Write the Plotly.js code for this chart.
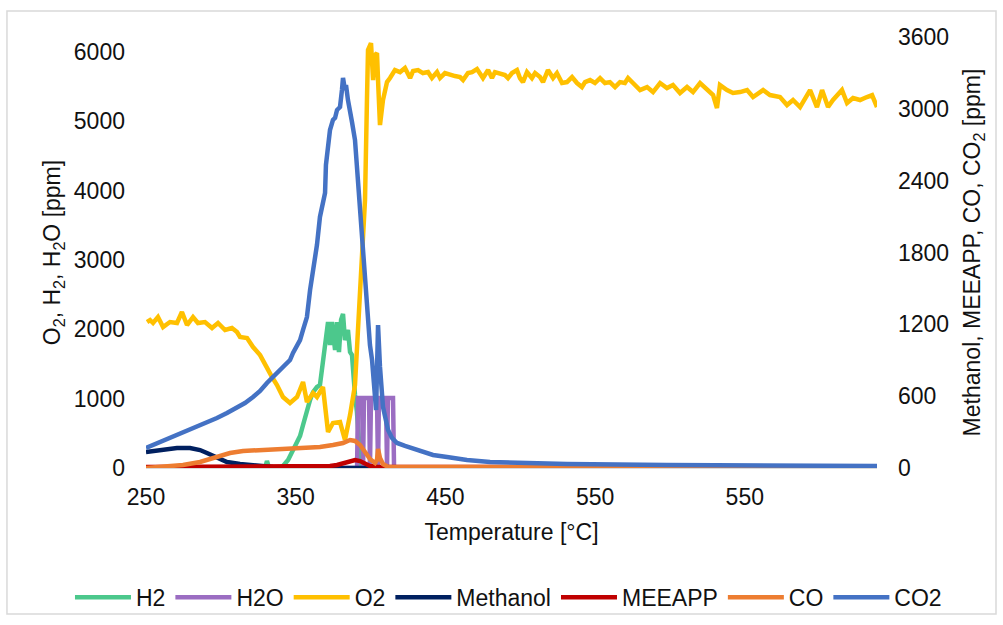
<!DOCTYPE html>
<html>
<head>
<meta charset="utf-8">
<script src="https://cdn.plot.ly/plotly-3.0.1.min.js"></script>
<style>html,body{margin:0;padding:0;background:#fff;}#chart{width:1003px;height:625px;}</style>
</head>
<body>
<div id="chart"></div>
<script>
// ---- Data ----
const xTickVals = [250, 350, 450, 550, 650];
const xTickText = ['250', '350', '450', '550', '550'];

const h2T = [250.0,329.5,330.8,332.2,339.5,341.5,344.9,348.2,350.9,352.9,354.9,357.5,359.6,361.6,364.2,366.2,368.2,370.2,371.6,372.9,374.2,376.3,377.6,378.9,380.3,381.6,382.9,384.9,386.3,387.6,388.3,389.6,390.9,392.3,393.6,738.3];
const h2V = [0,0,101,0,0,29,115,260,375,461,620,836,981,1096,1168,1197,1557,1918,2105,1774,2105,1702,2105,1673,2134,2221,1846,1990,1673,1629,1341,1053,808,404,0,0];

const h2oT = [250.0,391.0,391.6,394.3,395.0,395.6,399.0,399.6,400.3,404.3,405.0,405.6,410.3,411.0,411.6,415.0,415.7,738.3];
const h2oV = [0,0,1010,1010,0,1010,1010,0,1010,1010,0,1010,1010,0,1010,1010,0,0];

const o2T = [250.7,252.7,254.7,258.0,261.4,266.0,270.7,274.0,277.4,281.4,284.7,289.4,294.1,298.1,302.8,307.4,310.8,312.8,317.5,321.5,326.2,329.5,334.2,337.5,341.5,346.2,350.9,354.9,357.5,361.6,364.2,368.2,371.6,374.9,379.6,382.9,386.3,389.6,391.6,394.3,396.3,397.6,398.3,400.3,401.7,403.0,404.3,405.0,406.3,408.3,
  411.0,413.0,416.3,419.7,423.0,426.4,428.4,431.7,435.0,438.4,441.0,444.4,446.4,449.7,453.1,456.4,459.8,461.8,465.1,467.8,471.1,473.1,475.1,478.5,481.1,483.1,486.5,489.8,491.8,494.5,497.8,499.8,501.8,504.5,507.8,509.9,513.2,515.2,518.5,521.9,524.5,527.9,531.2,534.6,537.9,541.2,543.3,546.6,549.9,553.3,556.6,559.9,563.3,566.6,569.9,572.0,575.3,580.0,584.7,588.7,593.4,598.0,602.0,606.7,611.4,615.4,620.1,624.7,628.8,631.4,633.4,638.1,642.1,646.8,651.5,655.5,662.2,666.8,673.5,678.2,682.2,686.9,693.6,698.2,701.6,705.6,708.9,714.9,718.3,722.3,727.0,731.6,735.0,738.3];
const o2V = [2105,2134,2091,2177,2033,2105,2091,2250,2062,2177,2091,2105,2019,2091,1990,2019,1961,1889,1875,1745,1629,1485,1312,1197,1024,937,1024,1240,952,1082,1024,1168,519,649,663,404,764,1197,1990,2898,3865,5307,6028,6129,5595,5955,5984,5595,4946,5307,
  5566,5624,5739,5710,5768,5624,5725,5739,5696,5710,5624,5710,5624,5696,5667,5653,5638,5595,5696,5710,5754,5696,5624,5739,5624,5710,5696,5667,5624,5696,5739,5624,5566,5710,5624,5696,5638,5566,5739,5624,5696,5552,5566,5638,5552,5494,5566,5595,5552,5624,5552,5566,5494,5566,5552,5624,5552,5451,5494,5422,5552,5480,5523,5408,5494,5422,5552,5451,5379,5191,5523,5451,5408,5422,5451,5350,5451,5379,5350,5234,5307,5206,5451,5206,5451,5206,5307,5451,5263,5335,5307,5350,5379,5206];

const methT = [250.0,259.4,270.7,279.4,286.1,290.7,297.4,304.1,312.8,324.1,334.8,352.9,738.3];
const methV = [134,150,167,167,150,125,84,50,33,17,8,0,0];

const meeT = [250.0,352.9,372.9,377.6,381.6,386.3,389.6,393.0,396.3,399.6,405.0,738.3];
const meeV = [8,8,17,25,42,58,67,58,33,17,8,8];

const coT = [250.0,259.4,268.0,274.7,286.1,292.8,299.4,306.1,314.8,326.2,339.5,352.9,366.2,374.9,381.6,386.3,389.6,393.0,396.3,399.6,403.0,404.3,405.0,406.3,408.3,411.7,738.3];
const coV = [0,8,17,25,50,75,100,125,142,150,159,167,175,192,209,234,226,192,134,75,42,67,159,84,33,8,8];

const co2T = [250.0,259.4,268.0,276.1,284.1,290.7,297.4,304.1,310.8,316.1,321.5,326.2,330.8,334.8,341.5,346.2,348.2,352.9,354.9,357.5,359.6,361.6,362.9,364.2,366.2,368.2,369.6,370.2,371.6,372.9,374.9,376.3,377.6,379.6,380.9,381.6,382.9,383.6,384.9,386.3,387.6,389.6,391.6,393.0,394.3,396.3,398.3,399.6,401.0,402.3,403.7,405.0,406.3,408.3,409.7,411.7,414.3,417.7,423.0,431.0,441.7,451.1,464.4,479.8,497.8,531.2,598.0,664.8,738.3];
const co2V = [167,217,259,301,342,376,418,459,501,543,593,643,710,760,844,902,961,1069,1153,1261,1487,1654,1721,1863,2097,2239,2297,2531,2681,2823,2907,2924,2990,3015,3157,3258,3157,3199,3074,2990,2890,2740,2381,2239,1963,1545,1178,1027,902,652,484,1194,844,510,418,317,251,209,184,150,109,92,67,50,42,33,25,17,17];

const seriesNames = ['H2', 'H2O', 'O2', 'Methanol', 'MEEAPP', 'CO', 'CO2'];
const seriesColors = ['#4CC88C', '#9B6DC2', '#FFC000', '#002060', '#C00000', '#ED7D31', '#4472C4'];

// ---- Traces ----
const xs = [h2T, h2oT, o2T, methT, meeT, coT, co2T];
const ys = [h2V, h2oV, o2V, methV, meeV, coV, co2V];
const axes = ['y', 'y', 'y', 'y2', 'y2', 'y2', 'y2'];
const traces = seriesNames.map((n, i) => ({
  type: 'scatter', mode: 'lines', name: n,
  x: xs[i], y: ys[i], yaxis: axes[i],
  line: {color: seriesColors[i], width: 4.5, shape: 'linear'},
  hoverinfo: 'skip'
}));

const FONT = 'Liberation Sans, Arial, sans-serif';
const layout = {
  width: 1003, height: 625,
  margin: {l: 146, r: 126, t: 37, b: 157, autoexpand: false},
  paper_bgcolor: '#ffffff', plot_bgcolor: '#ffffff',
  font: {family: FONT, size: 23, color: '#111111'},
  showlegend: true,
  legend: {orientation: 'h', x: -0.104, xanchor: 'left', y: -0.30, yanchor: 'middle',
           bgcolor: 'rgba(0,0,0,0)', font: {family: FONT, size: 23, color: '#111111'},
           itemwidth: 56, traceorder: 'normal'},
  xaxis: {range: [250, 738.3], tickmode: 'array', tickvals: xTickVals, ticktext: xTickText,
          showgrid: false, zeroline: false, showline: true, linecolor: '#d9d9d9', linewidth: 1,
          ticks: '', ticklabelstandoff: 8, automargin: false,
          title: {text: 'Temperature [°C]', standoff: 15, font: {size: 23}}},
  yaxis: {range: [0, 6216], tickmode: 'linear', tick0: 0, dtick: 1000, showgrid: false, zeroline: false,
          showline: false, ticks: '', ticklabelstandoff: 20, automargin: false,
          title: {text: 'O<sub>2</sub>, H<sub>2</sub>, H<sub>2</sub>O [ppm]', standoff: 6, font: {size: 23}}},
  yaxis2: {range: [0, 3600], tickmode: 'linear', tick0: 0, dtick: 600, overlaying: 'y', side: 'right',
           showgrid: false, zeroline: false, showline: false, ticks: '', ticklabelstandoff: 20, automargin: false,
           title: {text: 'Methanol, MEEAPP, CO, CO<sub>2</sub> [ppm]', standoff: 15, font: {size: 23}}},
  shapes: [{type: 'rect', xref: 'paper', yref: 'paper', x0: -0.1902, x1: 1.1628, y0: -0.3387, y1: 1.0603,
            line: {color: '#d9d9d9', width: 1.5}, fillcolor: 'rgba(0,0,0,0)', layer: 'below'}]
};

Plotly.newPlot('chart', traces, layout, {displayModeBar: false, staticPlot: true});
</script>
</body>
</html>
